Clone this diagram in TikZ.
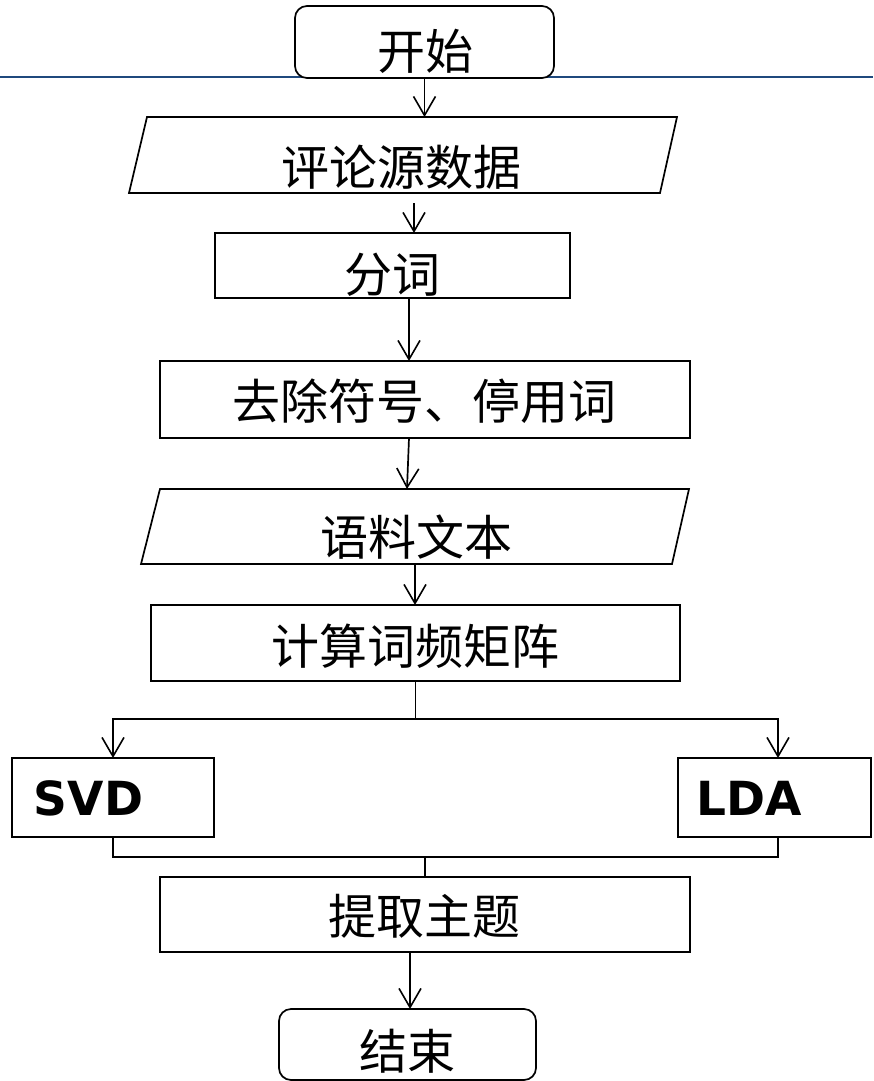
\documentclass[tikz,border=0pt]{standalone}
\usepackage{fontspec}
\newfontfamily\cjk{Noto Sans CJK SC}
\newfontfamily\lat{DejaVu Sans}
\usetikzlibrary{arrows.meta}
\definecolor{blueline}{RGB}{31,73,125}
\begin{document}
\begin{tikzpicture}[x=1pt,y=-1pt,line width=1.7pt,
  shp/.style 2 args={minimum width=#1,minimum height=#2,inner sep=0pt,outer sep=0pt},
  boxed/.style={draw,fill=white},
  roundbox/.style={draw,fill=white,rounded corners=12pt},
  txt/.style={inner sep=0pt,font=\cjk\fontsize{48}{52}\selectfont},
  ltxt/.style={inner sep=0pt,anchor=west,font=\lat\bfseries\fontsize{47}{52}\selectfont},
  arr/.style={-{Straight Barb[length=19pt,width=22pt,line width=1.6pt]}}]
\useasboundingbox (0,0) rectangle (873,1081);
\fill[white] (0,0) rectangle (873,1081);
% blue rule
\draw[blueline,line width=2pt] (0,77) -- (873,77);
% shapes
\node[shp={259}{72},roundbox] (start) at (424.5,42) {};
\node[shp={548}{76}] (p1) at (403,155) {};
\draw ([xshift=18pt]p1.north west) -- (p1.north east) -- ([xshift=-17pt]p1.south east) -- (p1.south west) -- cycle;
\node[shp={355}{65},boxed] (w1) at (392.5,265.5) {};
\node[shp={530}{77},boxed] (r1) at (425,399.5) {};
\node[shp={548}{75}] (p2) at (415,526.5) {};
\draw ([xshift=19pt]p2.north west) -- (p2.north east) -- ([xshift=-17pt]p2.south east) -- (p2.south west) -- cycle;
\node[shp={529}{76},boxed] (c1) at (415.5,643) {};
\node[shp={202}{79},boxed] (svd) at (113,797.5) {};
\node[shp={193}{79},boxed] (lda) at (774.5,797.5) {};
\node[shp={530}{75},boxed] (tq) at (425,914.5) {};
\node[shp={257}{71},roundbox] (end) at (407.5,1044.5) {};
% texts
\node[txt] (t0) at (425,51) {开始};
\node[txt] (t1) at (401,167) {评论源数据};
\node[txt] (t2) at (392,275) {分词};
\node[txt] (t3) at (424,401) {去除符号、停用词};
\node[txt] (t4) at (416,537) {语料文本};
\node[txt] (t5) at (415,646) {计算词频矩阵};
\node[ltxt] (t6) at (33,798) {SVD};
\node[ltxt] (t7) at (696,798) {LDA};
\node[txt] (t8) at (424,916) {提取主题};
\node[txt] (t9) at (407,1051) {结束};
% connectors
\draw[arr] (start.south) -- (start.south |- p1.north);
\draw[arr] ([xshift=11pt,yshift=-10pt]p1.south) -- ([xshift=11pt]p1.south |- w1.north);
\draw[arr] ([xshift=16.5pt]w1.south) -- ([xshift=16.5pt]w1.south |- r1.north);
\draw[arr] ([xshift=-16pt]r1.south) -- ([xshift=-18pt]r1.south |- p2.north);
\draw[arr] (p2.south) -- (p2.south |- c1.north);
\coordinate (sp) at (415.5,719);
\draw (c1.south) -- (sp);
\draw[arr] (sp) -| (svd.north);
\draw[arr] (sp) -| ([xshift=3.5pt]lda.north);
\coordinate (jn) at (425,857);
\draw (svd.south) |- (jn);
\draw ([xshift=3.5pt]lda.south) |- (jn);
\draw (jn) -- (tq.north);
\draw[arr] ([xshift=-15pt]tq.south) -- ([xshift=-15pt]tq.south |- end.north);
\end{tikzpicture}
\end{document}
